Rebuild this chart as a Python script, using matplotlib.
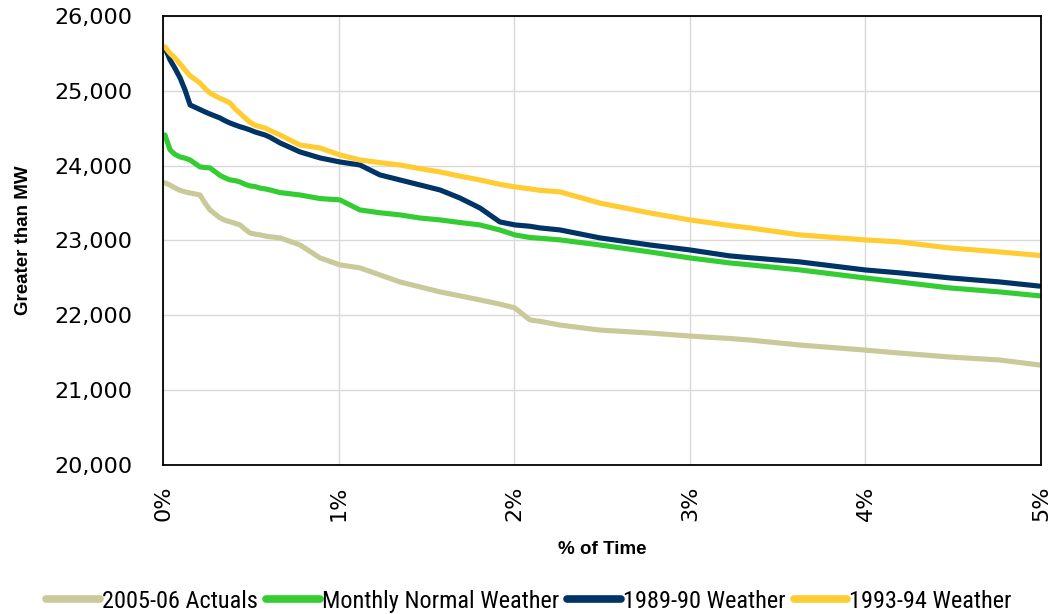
import numpy as np
from matplotlib import pyplot as plt
from matplotlib.ticker import FuncFormatter

# % of time (x) and MW values
pct_time = [0.011, 0.04, 0.068, 0.097, 0.125, 0.154, 0.21, 0.239, 0.267, 0.324, 0.353, 0.381,
            0.41, 0.438, 0.467, 0.495, 0.524, 0.552, 0.58, 0.609, 0.666, 0.78, 0.894, 1.007,
            1.121, 1.235, 1.349, 1.463, 1.577, 1.69, 1.804, 1.918, 2.003, 2.089, 2.146, 2.26,
            2.487, 2.772, 2.999, 3.227, 3.341, 3.625, 3.995, 4.194, 4.479, 4.764, 4.991]

actuals_0506 = [23770, 23740, 23702, 23670, 23650, 23635, 23608, 23500, 23408, 23302, 23270, 23250,
                23230, 23208, 23150, 23100, 23085, 23075, 23060, 23050, 23035, 22940, 22767, 22674,
                22634, 22540, 22446, 22380, 22313, 22260, 22206, 22150, 22099, 21939, 21920, 21870,
                21803, 21763, 21723, 21690, 21670, 21603, 21536, 21496, 21443, 21403, 21336]

monthly_normal = [24410, 24210, 24150, 24116, 24100, 24076, 23983, 23975, 23970, 23870, 23836, 23810,
                  23800, 23782, 23750, 23729, 23720, 23700, 23690, 23675, 23640, 23608, 23560, 23542,
                  23408, 23370, 23342, 23300, 23275, 23240, 23208, 23140, 23075, 23040, 23030, 23008,
                  22940, 22847, 22767, 22700, 22674, 22607, 22500, 22446, 22366, 22313, 22260]

weather_8990 = [25573, 25412, 25300, 25172, 25012, 24811, 24750, 24718, 24690, 24637, 24600, 24570,
                24544, 24520, 24500, 24477, 24450, 24430, 24410, 24380, 24304, 24183, 24103, 24049,
                24009, 23876, 23809, 23742, 23675, 23568, 23435, 23248, 23208, 23190, 23168, 23141,
                23035, 22940, 22874, 22794, 22770, 22714, 22607, 22567, 22500, 22446, 22390]

weather_9394 = [25586, 25500, 25439, 25360, 25279, 25200, 25105, 25030, 24971, 24900, 24870, 24838,
                24760, 24700, 24637, 24580, 24540, 24520, 24504, 24470, 24410, 24276, 24236, 24143,
                24076, 24040, 24009, 23960, 23916, 23860, 23809, 23750, 23716, 23690, 23670, 23650,
                23500, 23368, 23275, 23200, 23168, 23075, 23008, 22980, 22900, 22847, 22800]

series = [
    ('2005-06 Actuals', actuals_0506, '#C9C99A'),
    ('Monthly Normal Weather', monthly_normal, '#33CC33'),
    ('1989-90 Weather', weather_8990, '#003366'),
    ('1993-94 Weather', weather_9394, '#FFCC33'),
]

fig, ax = plt.subplots(figsize=(10.54, 6.14), dpi=100)
plt.subplots_adjust(left=0.1547, right=0.9877, top=0.974, bottom=0.2427)

for name, vals, col in series:
    ax.plot(pct_time, vals, color=col, lw=3.7, label=name, solid_capstyle='round')

ax.set_xlim(0, 5)
ax.set_ylim(20000, 26000)
ax.set_xticks(np.arange(0, 6, 1))
ax.set_yticks(np.arange(20000, 27000, 1000))
ax.xaxis.set_major_formatter(FuncFormatter(lambda v, p: f'{v:.0f}%'))
ax.yaxis.set_major_formatter(FuncFormatter(lambda v, p: f'{v:,.0f}'))
ax.tick_params(axis='both', length=0, labelsize=16)
ax.tick_params(axis='y', pad=22)
ax.tick_params(axis='x', labelrotation=90, pad=15)
ax.grid(True, color='#d9d9d9', lw=1)
ax.set_axisbelow(True)
for s in ax.spines.values():
    s.set_linewidth(1.3)
    s.set_color('black')

ax.set_xlabel('% of Time', fontsize=13.5, fontweight='bold', family='Liberation Sans', labelpad=14)
ax.set_ylabel('Greater than MW', fontsize=13.5, fontweight='bold', family='Liberation Sans', labelpad=16)

leg = fig.legend(loc='center', bbox_to_anchor=(0.502, 0.021), ncol=4, frameon=False,
                 handlelength=2.2, handletextpad=0.08, columnspacing=0.35,
                 prop={'family': ['Roboto Condensed', 'Liberation Sans'], 'size': 17.5})
for h in leg.get_lines():
    h.set_linewidth(5.5)

plt.savefig('out.png', dpi=100)
